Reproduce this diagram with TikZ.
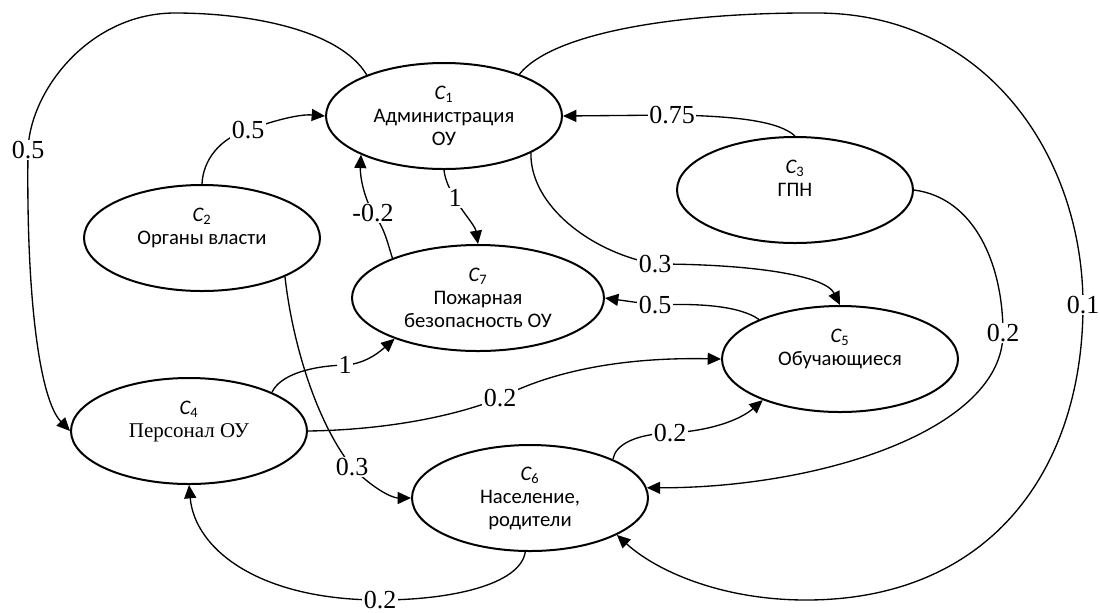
\documentclass[tikz,border=0pt]{standalone}
\usepackage{fontspec}
\setmainfont{Carlito}
\newfontfamily\timesf{Liberation Serif}
\usetikzlibrary{arrows.meta,shapes.geometric}
\newcommand{\cname}[1]{{\itshape C}\textsubscript{#1}}
\tikzset{
  cnode/.style={draw, line width=1.5pt, ellipse, minimum width=177pt, minimum height=79.5pt,
    inner sep=0pt, align=center, font=\fontsize{15.5}{17.25}\selectfont},
  edge/.style={line width=1pt, -{Triangle[length=10pt,width=9pt]}},
  lbl/.style={fill=white, inner sep=1pt, font=\timesf\fontsize{19.5}{20}\selectfont},
}
\begin{document}
\begin{tikzpicture}[x=0.75pt,y=-0.75pt]
\useasboundingbox (0,0) rectangle (1100,612);
\node[cnode] (c1) at (444,116) {\cname{1}\\Администрация\\ОУ};
\node[cnode] (c2) at (202,238) {\cname{2}\\Органы власти\\\mbox{}};
\node[cnode] (c3) at (795,190) {\cname{3}\\ГПН\\\mbox{}};
\node[cnode] (c4) at (189,431) {\cname{4}\\{\timesf\fontsize{15.75}{17.25}\selectfont Персонал ОУ}\\\mbox{}};
\node[cnode] (c5) at (840,359) {\cname{5}\\Обучающиеся\\\mbox{}};
\node[cnode] (c6) at (530,498) {\cname{6}\\Население,\\родители};
\node[cnode, minimum width=189pt] (c7) at (478,298) {\cname{7}\\Пожарная\\безопасность ОУ};

% C1 -> C4
\draw[edge] (c1.152) .. controls (340,30) and (250,13) .. (175,13)
  .. controls (90,13) and (30,90) .. (28,150) node[lbl]{0.5}
  .. controls (26,300) and (40,400) .. (c4.west);
% C2 -> C1
\draw[edge] (c2.north) .. controls (203,160) and (220,138) .. (248,130) node[lbl]{0.5}
  .. controls (275,120) and (300,114) .. (c1.west);
% C3 -> C1
\draw[edge] (c3.north) .. controls (780,122) and (740,116) .. (672,115) node[lbl]{0.75} -- (c1.east);
% C1 -> C7
\draw[edge] (c1.south) .. controls (445,180) and (450,190) .. (455,198) node[lbl]{1}
  .. controls (462,212) and (475,225) .. (c7.north);
% C7 -> C1
\draw[edge] (c7.155) .. controls (388,245) and (385,228) .. (373,213) node[lbl]{-0.2}
  .. controls (363,195) and (360,175) .. (c1.205);
% C1 -> C5
\draw[edge] (c1.337) .. controls (530,205) and (590,252) .. (655,264) node[lbl]{0.3}
  .. controls (750,264) and (825,275) .. (c5.north);
% C5 -> C7
\draw[edge] (c5.154) .. controls (740,306) and (700,303) .. (655,305) node[lbl]{0.5} -- (c7.east);
% C4 -> C7
\draw[edge] (c4.25) .. controls (280,375) and (310,366) .. (345,365) node[lbl]{1}
  .. controls (362,364) and (375,356) .. (c7.206);
% C4 -> C5
\draw[edge] (c4.east) .. controls (380,430) and (450,418) .. (500,398) node[lbl]{0.2}
  .. controls (550,372) and (620,357) .. (c5.west);
% C3 -> C6
\draw[edge] (c3.east) .. controls (975,198) and (1003,265) .. (1003,333) node[lbl]{0.2}
  .. controls (1003,430) and (820,488) .. (c6.5);
% C1 -> C6
\draw[edge] (c1.29) .. controls (555,30) and (690,12) .. (820,13)
  .. controls (990,15) and (1083,160) .. (1083,305) node[lbl]{0.1}
  .. controls (1083,470) and (990,600) .. (806,600)
  .. controls (720,600) and (655,570) .. (c6.337);
% C2 -> C6
\draw[edge] (c2.335) .. controls (292,340) and (315,420) .. (352,467) node[lbl]{0.3}
  .. controls (372,488) and (392,498) .. (c6.west);
% C6 -> C5
\draw[edge] (c6.25) .. controls (615,445) and (635,434) .. (670,433) node[lbl]{0.2}
  .. controls (710,431) and (740,420) .. (c5.208);
% C6 -> C4
\draw[edge] (c6.265) .. controls (520,585) and (450,600) .. (380,600) node[lbl]{0.2}
  .. controls (260,600) and (195,550) .. (c4.south);
\end{tikzpicture}
\end{document}
